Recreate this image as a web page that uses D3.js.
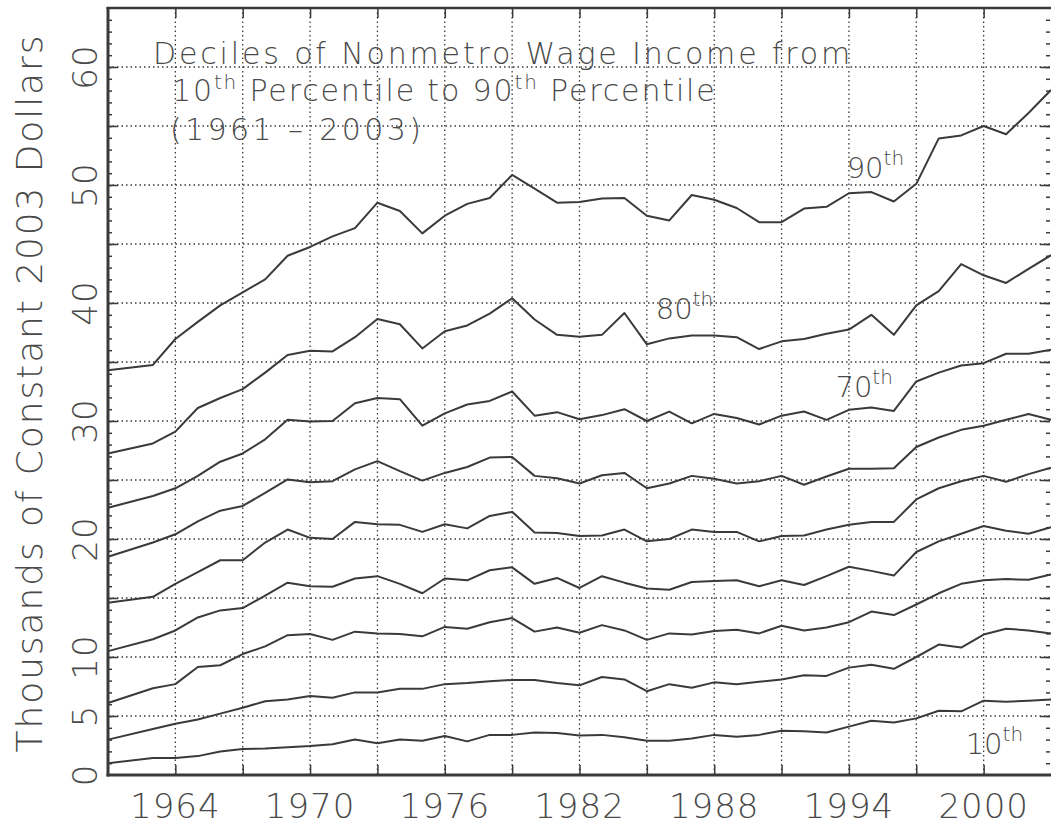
<!DOCTYPE html>
<html><head><meta charset="utf-8">
<script src="https://cdn.jsdelivr.net/npm/d3@7"></script>
<style>
body{margin:0;background:#fff;}
svg{display:block;}
text{font-family:"DejaVu Sans","Liberation Sans",sans-serif;font-weight:200;fill:#4a4a4a;}
</style>
</head><body>
<svg id="chart" width="1051" height="831"></svg>
<script>
// ---- data ----
const years = [1961,1963,1964,1965,1966,1967,1968,1969,1970,1971,1972,1973,1974,1975,1976,1977,1978,1979,1980,1981,1982,1983,1984,1985,1986,1987,1988,1989,1990,1991,1992,1993,1994,1995,1996,1997,1998,1999,2000,2001,2002,2003];
const p10 = [1.0,1.45,1.45,1.6,2.0,2.2,2.25,2.35,2.45,2.6,3.0,2.7,3.0,2.9,3.3,2.85,3.4,3.4,3.6,3.55,3.35,3.4,3.2,2.9,2.9,3.1,3.4,3.25,3.4,3.75,3.7,3.6,4.1,4.6,4.45,4.8,5.45,5.4,6.3,6.2,6.3,6.4];
const p20 = [3.0,3.9,4.35,4.7,5.2,5.7,6.25,6.4,6.7,6.55,7.0,7.0,7.3,7.3,7.7,7.8,7.95,8.05,8.05,7.8,7.6,8.3,8.1,7.1,7.7,7.4,7.85,7.7,7.9,8.1,8.45,8.4,9.1,9.35,9.0,10.0,11.05,10.8,11.9,12.4,12.25,12.0];
const p30 = [6.1,7.35,7.7,9.15,9.3,10.25,10.9,11.85,11.95,11.45,12.15,12.0,11.95,11.75,12.55,12.4,12.95,13.3,12.15,12.5,12.05,12.7,12.25,11.45,12.0,11.9,12.2,12.3,12.0,12.65,12.25,12.5,12.95,13.85,13.55,14.45,15.4,16.2,16.5,16.6,16.55,17.0];
const p40 = [10.5,11.5,12.25,13.35,13.95,14.15,15.2,16.3,16.0,15.95,16.65,16.85,16.2,15.4,16.65,16.5,17.35,17.6,16.2,16.7,15.85,16.85,16.3,15.8,15.7,16.35,16.45,16.5,16.0,16.5,16.1,16.85,17.65,17.3,16.9,18.9,19.8,20.45,21.1,20.7,20.45,21.0];
const p50 = [14.6,15.1,16.2,17.2,18.2,18.2,19.7,20.8,20.1,20.0,21.45,21.25,21.2,20.6,21.25,20.9,21.95,22.3,20.55,20.5,20.25,20.3,20.8,19.8,20.0,20.8,20.6,20.6,19.8,20.25,20.3,20.8,21.2,21.45,21.45,23.35,24.3,24.9,25.35,24.85,25.5,26.05];
const p60 = [18.5,19.7,20.4,21.5,22.4,22.8,23.9,25.05,24.8,24.9,25.9,26.6,25.75,24.95,25.6,26.1,26.9,26.95,25.35,25.15,24.7,25.4,25.6,24.3,24.7,25.35,25.1,24.7,24.9,25.35,24.6,25.3,25.95,25.95,26.0,27.8,28.6,29.25,29.6,30.1,30.6,30.1];
const p70 = [22.65,23.65,24.3,25.35,26.55,27.25,28.45,30.1,29.95,30.0,31.5,31.95,31.85,29.6,30.65,31.4,31.7,32.5,30.45,30.75,30.15,30.5,31.0,30.0,30.8,29.8,30.6,30.25,29.7,30.45,30.8,30.1,30.95,31.15,30.85,33.35,34.1,34.7,34.9,35.7,35.7,36.05];
const p80 = [27.25,28.1,29.1,31.1,31.95,32.7,34.1,35.6,35.95,35.9,37.1,38.65,38.2,36.15,37.6,38.1,39.1,40.4,38.6,37.3,37.15,37.3,39.15,36.5,37.0,37.25,37.25,37.1,36.1,36.75,36.95,37.4,37.75,39.0,37.3,39.8,41.0,43.3,42.35,41.7,42.9,44.05];
const p90 = [34.3,34.75,36.95,38.4,39.8,40.9,42.0,44.0,44.75,45.65,46.35,48.5,47.8,45.9,47.4,48.4,48.9,50.85,49.7,48.5,48.55,48.85,48.9,47.4,47.0,49.15,48.75,48.05,46.85,46.85,48.0,48.15,49.3,49.4,48.6,50.1,53.95,54.2,55.0,54.3,56.1,58.05];
const seriesList = [p10,p20,p30,p40,p50,p60,p70,p80,p90];

const xTickLabels = [1964,1970,1976,1982,1988,1994,2000];
const xGridValues = [1964,1967,1970,1973,1976,1979,1982,1985,1988,1991,1994,1997,2000];
const yTickLabels = [0,5,10,20,30,40,50,60];
const yGridValues = [5,10,15,20,25,30,35,40,45,50,55,60];
const yMinorValues = d3.range(1,65);

const labelNums = ["90","80","70","10"];
const labelYears = [1993.9,1985.4,1993.4,1999.2];
const labelValues = [50.6,38.65,32.05,1.8];

const titleLine1 = "Deciles of Nonmetro Wage Income from";
const titleLine3 = "(1961 \u2013 2003)";
const yTitle = "Thousands of Constant 2003 Dollars";

// ---- layout ----
const svg = d3.select("#chart");
const L = 108, R = 1051, T = 8, B = 775;
const x = d3.scaleLinear().domain([1961,2003]).range([L,R]);
const y = d3.scaleLinear().domain([0,65]).range([B,T]);
const ink = "#3a3a3a";

// gridlines
const grid = svg.append("g").attr("stroke", ink).attr("stroke-width",1.3).attr("stroke-dasharray","1.5,3");
grid.selectAll(".hg").data(yGridValues).join("line")
  .attr("x1",L).attr("x2",R).attr("y1",d=>y(d)).attr("y2",d=>y(d));
grid.selectAll(".vg").data(xGridValues).join("line")
  .attr("y1",T).attr("y2",B).attr("x1",d=>x(d)).attr("x2",d=>x(d));

// axes via d3 axis generators
function styleAxis(g){ g.select(".domain").remove(); g.selectAll("line").attr("stroke",ink).attr("stroke-width",1.5); g.selectAll("text").remove(); }
svg.append("g").attr("transform",`translate(0,${B})`)
  .call(d3.axisBottom(x).tickValues(xGridValues).tickSizeInner(-10).tickSizeOuter(0)).call(styleAxis);
svg.append("g").attr("transform",`translate(0,${T})`)
  .call(d3.axisTop(x).tickValues(xGridValues).tickSizeInner(-10).tickSizeOuter(0)).call(styleAxis);
svg.append("g").attr("transform",`translate(${L},0)`)
  .call(d3.axisLeft(y).tickValues(yGridValues).tickSizeInner(-10).tickSizeOuter(0)).call(styleAxis);
svg.append("g").attr("transform",`translate(${L},0)`)
  .call(d3.axisLeft(y).tickValues(yMinorValues).tickSizeInner(-4).tickSizeOuter(0)).call(styleAxis);
svg.append("g").attr("transform",`translate(${R-1},0)`)
  .call(d3.axisRight(y).tickValues(yGridValues).tickSizeInner(-10).tickSizeOuter(0)).call(styleAxis);
svg.append("g").attr("transform",`translate(${R-1},0)`)
  .call(d3.axisRight(y).tickValues(yMinorValues).tickSizeInner(-4).tickSizeOuter(0)).call(styleAxis);

// frame
svg.append("line").attr("x1",L).attr("x2",L).attr("y1",T-1).attr("y2",B+1.5).attr("stroke",ink).attr("stroke-width",3);
svg.append("line").attr("x1",L-1.5).attr("x2",R+2).attr("y1",B).attr("y2",B).attr("stroke",ink).attr("stroke-width",3);
svg.append("line").attr("x1",L-1.5).attr("x2",R+2).attr("y1",T).attr("y2",T).attr("stroke",ink).attr("stroke-width",2.5);
svg.append("line").attr("x1",R+1.5).attr("x2",R+1.5).attr("y1",T).attr("y2",B).attr("stroke",ink).attr("stroke-width",3);

// series lines
const line = d3.line().x((d,i)=>x(years[i])).y(d=>y(d));
svg.append("g").selectAll("path").data(seriesList).join("path")
  .attr("d",line).attr("fill","none").attr("stroke",ink).attr("stroke-width",2).attr("stroke-linejoin","round");

// x tick labels
svg.append("g").selectAll("text").data(xTickLabels).join("text")
  .attr("x",d=>x(d)).attr("y",818).attr("text-anchor","middle")
  .attr("font-size",34).attr("letter-spacing",1).text(d=>d);

// y tick labels (rotated)
svg.append("g").selectAll("text").data(yTickLabels).join("text")
  .attr("transform",d=>`translate(97,${y(d)}) rotate(-90)`)
  .attr("text-anchor","middle").attr("font-size",34).attr("letter-spacing",1).text(d=>d);

// y title
svg.append("text").attr("transform","translate(42,393) rotate(-90)")
  .attr("text-anchor","middle").attr("font-size",36).attr("letter-spacing",1.9).text(yTitle);

// title
const tg = svg.append("g").attr("font-size",30);
tg.append("text").attr("x",153).attr("y",64).attr("letter-spacing",2.85).text(titleLine1);
const t2 = tg.append("text").attr("x",172).attr("y",101).attr("letter-spacing",1.85);
t2.append("tspan").text("10");
t2.append("tspan").attr("font-size",20).attr("dy",-12).text("th");
t2.append("tspan").attr("dy",12).text(" Percentile to 90");
t2.append("tspan").attr("font-size",20).attr("dy",-12).text("th");
t2.append("tspan").attr("dy",12).text(" Percentile");
tg.append("text").attr("x",170).attr("y",140).attr("letter-spacing",3.4).text(titleLine3);

// decile labels
const lg = svg.append("g").selectAll("text").data(labelNums).join("text")
  .attr("x",(d,i)=>x(labelYears[i])).attr("y",(d,i)=>y(labelValues[i]))
  .attr("font-size",29);
lg.append("tspan").text(d=>d);
lg.append("tspan").attr("font-size",20).attr("dy",-13).text("th");
</script>
</body></html>
